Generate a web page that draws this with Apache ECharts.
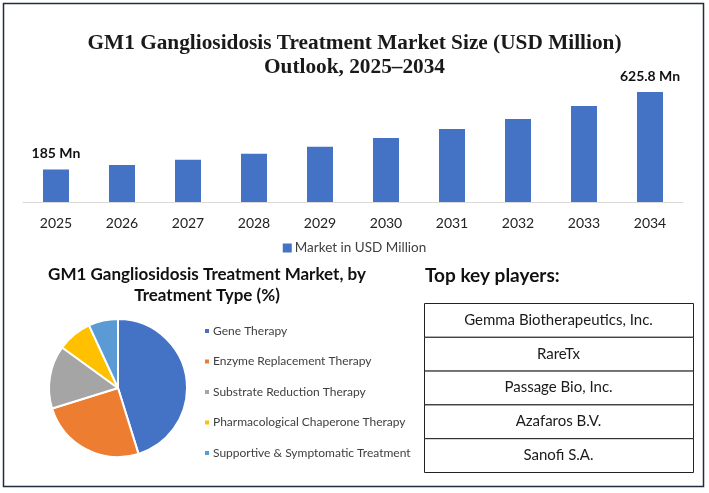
<!DOCTYPE html>
<html>
<head>
<meta charset="utf-8">
<script src="https://cdn.jsdelivr.net/npm/echarts@6/dist/echarts.min.js"></script>
<style>
  html, body { margin: 0; padding: 0; background: #fff; }
  #chart { width: 709px; height: 493px; }
</style>
</head>
<body>
<div id="chart"></div>
<script>
const years = ['2025', '2026', '2027', '2028', '2029', '2030', '2031', '2032', '2033', '2034'];
const marketValues = [185, 210, 240, 274, 314, 364, 415, 473, 546, 625.8];
const barSeriesName = 'Market in USD Million';

const treatmentTypes = [
  'Gene Therapy',
  'Enzyme Replacement Therapy',
  'Substrate Reduction Therapy',
  'Pharmacological Chaperone Therapy',
  'Supportive & Symptomatic Treatment'
];
const treatmentShares = [45.2, 25, 14.8, 8.1, 6.9];
const pieColors = ['#4472C4', '#ED7D31', '#A5A5A5', '#FFC000', '#5B9BD5'];

const keyPlayers = [
  'Gemma Biotherapeutics, Inc.',
  'RareTx',
  'Passage Bio, Inc.',
  'Azafaros B.V.',
  'Sanofi S.A.'
];

const sans = 'Lato, "Open Sans", sans-serif';

// table of key players, drawn as plain graphics
const tableX = 424, tableY = 303, tableW = 269, rowH = 33.8;
const tableEls = [];
keyPlayers.forEach((name, i) => {
  tableEls.push({
    type: 'rect',
    shape: { x: tableX + 0.5, y: tableY + i * rowH + 0.5, width: tableW, height: rowH },
    style: { fill: '#fff', stroke: '#222', lineWidth: 1 }
  });
  tableEls.push({
    type: 'text',
    x: tableX + tableW / 2,
    y: tableY + i * rowH + rowH / 2,
    style: {
      text: name, fill: '#1a1a1a', font: '15px ' + sans,
      align: 'center', verticalAlign: 'middle'
    }
  });
});

const chart = echarts.init(document.getElementById('chart'), null, { renderer: 'canvas' });

chart.setOption({
  animation: false,
  backgroundColor: '#fff',
  title: [
    {
      text: 'GM1 Gangliosidosis Treatment Market Size (USD Million)\nOutlook, 2025\u20132034',
      left: 'center',
      top: 31,
      padding: 0,
      textStyle: {
        fontFamily: '"Liberation Serif", "DejaVu Serif", serif',
        fontWeight: 'bold',
        fontSize: 21.3,
        lineHeight: 24,
        color: '#1a1a1a'
      }
    },
    {
      text: 'GM1 Gangliosidosis Treatment Market, by\nTreatment Type (%)',
      left: 207,
      textAlign: 'center',
      top: 264,
      padding: 0,
      textStyle: {
        fontFamily: sans,
        fontWeight: 'bold',
        fontSize: 17,
        lineHeight: 21,
        color: '#111'
      }
    },
    {
      text: 'Top key players:',
      left: 425,
      top: 266,
      padding: 0,
      textStyle: {
        fontFamily: sans,
        fontWeight: 'bold',
        fontSize: 19,
        color: '#111'
      }
    }
  ],
  legend: [
    {
      data: [barSeriesName],
      left: 'center',
      top: 236,
      itemWidth: 9,
      itemHeight: 9,
      itemGap: 10,
      icon: 'rect',
      textStyle: { fontFamily: sans, fontSize: 13.5, color: '#404040', padding: [0, 0, 0, -2] }
    },
    {
      data: treatmentTypes,
      orient: 'vertical',
      left: 198,
      top: 320,
      itemWidth: 6,
      itemHeight: 6,
      itemGap: 18.5,
      icon: 'rect',
      textStyle: { fontFamily: sans, fontSize: 12, color: '#404040', padding: [0, 0, 0, -2] }
    }
  ],
  grid: { left: 23, right: 26, top: 79, bottom: 291 },
  xAxis: {
    type: 'category',
    data: years,
    axisLine: { lineStyle: { color: '#d9d9d9', width: 1 } },
    axisTick: { show: false },
    axisLabel: { fontFamily: sans, fontSize: 14, color: '#222', margin: 14 }
  },
  yAxis: {
    type: 'value',
    min: 0,
    max: 700,
    show: false,
    splitLine: { show: false }
  },
  series: [
    {
      name: barSeriesName,
      type: 'bar',
      barWidth: 26,
      itemStyle: { color: '#4472C4' },
      data: marketValues.map((v, i) => ({
        value: v,
        label: { show: i === 0 || i === marketValues.length - 1 }
      })),
      label: {
        position: 'top',
        distance: 9,
        formatter: '{c} Mn',
        fontFamily: sans,
        fontWeight: 'bold',
        fontSize: 14,
        color: '#111'
      }
    },
    {
      name: 'Treatment Type',
      type: 'pie',
      center: [118, 388],
      radius: 69,
      startAngle: 90,
      clockwise: true,
      label: { show: false },
      labelLine: { show: false },
      itemStyle: { borderColor: '#fff', borderWidth: 2 },
      data: treatmentTypes.map((name, i) => ({
        name: name,
        value: treatmentShares[i],
        itemStyle: { color: pieColors[i] }
      }))
    }
  ],
  graphic: [
    {
      type: 'rect',
      shape: { x: 3.5, y: 3.5, width: 700, height: 483 },
      style: { fill: 'none', stroke: '#1c2e3f', lineWidth: 1.5 },
      silent: true
    },
    { type: 'group', children: tableEls }
  ]
});
</script>
</body>
</html>
